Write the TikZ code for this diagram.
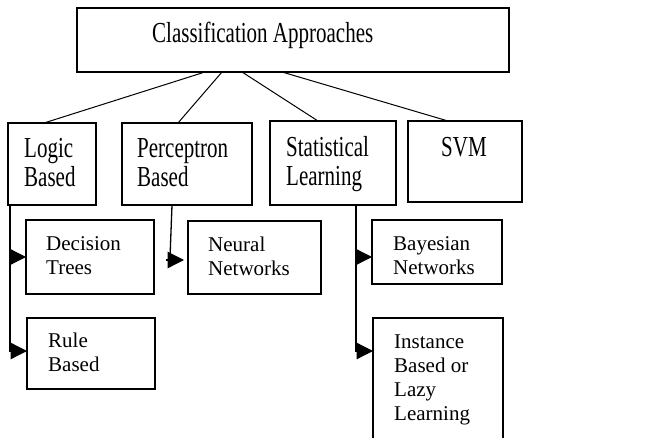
\documentclass[tikz,border=0pt]{standalone}
\usepackage{fontspec}
\setmainfont{Liberation Serif}
\usetikzlibrary{arrows.meta}
\newcommand{\tallt}[1]{\scalebox{1}[1.38]{\begin{tabular}[t]{@{}l@{}}#1\end{tabular}}}
\newcommand{\smallt}[1]{\begin{tabular}[t]{@{}l@{}}#1\end{tabular}}
\begin{document}
\begin{tikzpicture}[x=1pt,y=-1pt,
  box/.style={draw,line width=1.3pt,rectangle,inner sep=0pt,outer sep=0pt,anchor=north west},
  big/.style={anchor=base west,inner sep=0pt,font=\fontsize{21}{21}\selectfont},
  small/.style={anchor=base west,inner sep=0pt,font=\fontsize{21}{23.7}\selectfont},
  link/.style={line width=1pt},
  arr/.style={line width=1.3pt,-{Triangle[length=16.5pt,width=16.5pt]}}]
\clip (0,0) rectangle (662,438);
% boxes
\node[box,minimum width=432pt,minimum height=64pt] (top) at (77,8) {};
\node[box,minimum width=88pt,minimum height=82pt] (logic) at (8,123) {};
\node[box,minimum width=130pt,minimum height=82pt] (perc) at (122,123) {};
\node[box,minimum width=126pt,minimum height=84pt] (stat) at (270,121) {};
\node[box,minimum width=114pt,minimum height=81pt] (svm) at (408,121) {};
\node[box,minimum width=128pt,minimum height=74pt] (dt) at (26,220) {};
\node[box,minimum width=128pt,minimum height=71pt] (rb) at (27,318) {};
\node[box,minimum width=133pt,minimum height=73pt] (nn) at (188,221) {};
\node[box,minimum width=130pt,minimum height=64pt] (bn) at (372,220) {};
\node[box,minimum width=130pt,minimum height=125pt] (ib) at (373,318) {};
% texts
\node[big] (top-t) at (152,43) {\tallt{Classification Approaches}};
\node[big] (logic-t) at (24,158) {\tallt{Logic\\Based}};
\node[big] (perc-t) at (137,158) {\tallt{Perceptron\\Based}};
\node[big] (stat-t) at (286,157) {\tallt{Statistical\\Learning}};
\node[big] (svm-t) at (441,157) {\tallt{SVM}};
\node[small] (dt-t) at (46,251) {\smallt{Decision\\Trees}};
\node[small] (rb-t) at (48,348) {\smallt{Rule\\Based}};
\node[small] (nn-t) at (208,252) {\smallt{Neural\\Networks}};
\node[small] (bn-t) at (393,251) {\smallt{Bayesian\\Networks}};
\node[small] (ib-t) at (394,349) {\smallt{Instance\\Based or\\Lazy\\Learning}};
% top connectors
\draw[link] ([xshift=128pt]top.south west) -- ([xshift=36pt]logic.north west);
\draw[link] ([xshift=145pt]top.south west) -- ([xshift=56pt]perc.north west);
\draw[link] ([xshift=165pt]top.south west) -- ([xshift=48pt]stat.north west);
\draw[link] ([xshift=205pt]top.south west) -- ([xshift=40pt]svm.north west);
% logic branch
\draw[arr] ([xshift=2pt]logic.south west) |- (dt.west);
\draw[arr] ([xshift=2pt]logic.south west) |- ([yshift=-33pt]rb.north west);
% perceptron branch
\coordinate (pj) at (170,258);
\coordinate (pa) at (166,260);
\draw[link,line width=1.3pt] ([xshift=50pt]perc.south west) -- (pj);
\draw[arr,shorten >=4pt] (pa) -- (pa -| nn.west);
% statistical branch
\draw[arr] ([xshift=86pt]stat.south west) |- ([yshift=-5pt]bn.west);
\draw[arr] ([xshift=86pt]stat.south west) |- ([yshift=-33pt]ib.north west);
\end{tikzpicture}
\end{document}
